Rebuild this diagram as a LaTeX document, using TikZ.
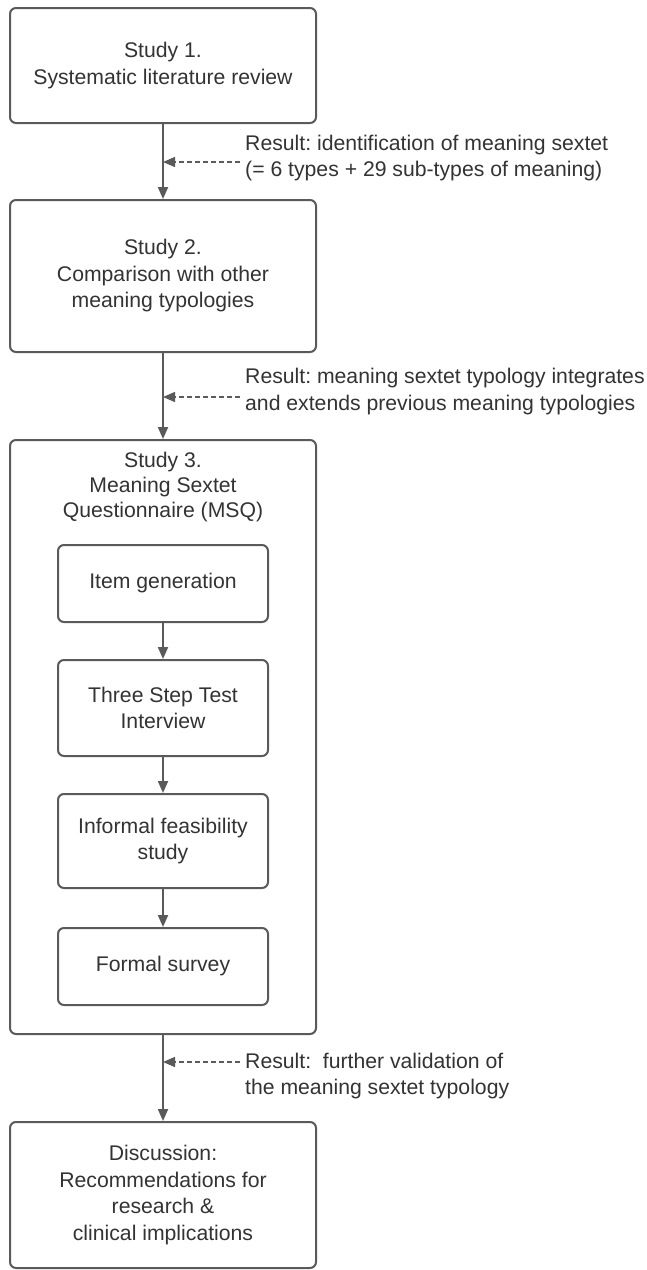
\documentclass[tikz,border=0pt]{standalone}
\usepackage{fontspec}
\setmainfont{Liberation Sans}
\frenchspacing
\usetikzlibrary{arrows.meta}
\definecolor{lc}{HTML}{5A5A5A}
\definecolor{tc}{HTML}{333333}
\tikzset{
  box/.style={draw=lc, line width=2pt, rounded corners=6pt, fill=white, align=center, text=tc, inner sep=0pt},
  flow/.style={draw=lc, line width=2pt, -{Triangle[length=12pt,width=10pt]}},
  note/.style={draw=lc, line width=1.4pt, dash pattern=on 5pt off 3pt, -{Triangle[length=12pt,width=10pt]}},
  txt/.style={align=left, text=tc, inner sep=0pt, anchor=west},
}
\begin{document}
\begin{tikzpicture}[x=1pt, y=-1pt, font=\fontsize{21.2}{26.5}\selectfont]
\useasboundingbox (0,0) rectangle (646,1270);
\fill[white] (0,0) rectangle (646,1270);
% main boxes
\node[box, minimum width=306pt, minimum height=115pt] (b1) at (163,65.5) {Study 1.\\Systematic literature review};
\node[box, minimum width=306pt, minimum height=152pt] (b2) at (163,276) {Study 2.\\Comparison with other\\meaning typologies};
\node[box, minimum width=306pt, minimum height=594pt] (b3) at (163,737) {};
\node[align=center, text=tc, inner sep=0pt, font=\fontsize{21.2}{25}\selectfont] (t3) at (163,487) {Study 3.\\Meaning Sextet\\Questionnaire (MSQ)};
\node[box, minimum width=210pt, minimum height=77pt] (i1) at (163,583.5) {Item generation};
\node[box, minimum width=210pt, minimum height=96pt] (i2) at (163,708) {Three Step Test\\Interview};
\node[box, minimum width=210pt, minimum height=94pt] (i3) at (163,841) {Informal feasibility\\study};
\node[box, minimum width=210pt, minimum height=77pt] (i4) at (163,966.5) {Formal survey};
\node[box, minimum width=306pt, minimum height=146pt] (b4) at (163,1195) {Discussion:\\Recommendations for\\research \&\\clinical implications};
% result notes
\node[txt] (r1) at (245,158) {Result: identification of meaning sextet\\(= 6 types + 29 sub-types of meaning)};
\node[txt] (r2) at (245,391.5) {Result: meaning sextet typology integrates\\and extends previous meaning typologies};
\node[txt] (r3) at (245,1076) {Result:\ \ further validation of\\the meaning sextet typology};
\coordinate (d1) at (240,162);
\coordinate (d2) at (240,397);
\coordinate (d3) at (240,1062);
% flow arrows
\draw[flow] (b1.south) -- (b2.north);
\draw[flow] (b2.south) -- (b3.north);
\draw[flow] (b3.south) -- (b4.north);
\draw[flow] (i1.south) -- (i2.north);
\draw[flow] (i2.south) -- (i3.north);
\draw[flow] (i3.south) -- (i4.north);
% dashed notes
\draw[note] (d1) -- (d1 -| b1.south);
\draw[note] (d2) -- (d2 -| b2.south);
\draw[note] (d3) -- (d3 -| b3.south);
\end{tikzpicture}
\end{document}
